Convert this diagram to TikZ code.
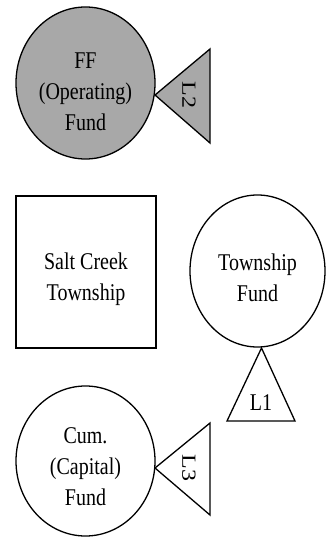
\documentclass[tikz,border=0pt]{standalone}
\usepackage{fontspec}
\usepackage{graphicx}
\setmainfont{Liberation Serif}
\usetikzlibrary{shapes.geometric}
\definecolor{fundgray}{RGB}{168,168,168}
\newcommand{\vtext}[1]{\scalebox{1}[1.2]{\begin{tabular}{@{}c@{}}#1\end{tabular}}}
\tikzset{
  lbl/.style={font=\fontsize{20}{26}\selectfont, inner sep=0pt},
  fund/.style={ellipse, draw, line width=1.3pt, inner sep=0pt},
  tri/.style={draw, line width=1.3pt, line join=miter},
  box/.style={draw, line width=1.3pt, inner sep=0pt}
}
\begin{document}
\begin{tikzpicture}[x=1pt,y=-1pt]
\useasboundingbox (0,0) rectangle (336,537);
% FF operating fund
\node[fund, fill=fundgray, minimum width=139pt, minimum height=152pt] (ff) at (85.5,83) {};
\node[lbl] (fftext) at (85.5,93) {\vtext{FF\\(Operating)\\Fund}};
% L2
\coordinate (l2a) at (155,95);
\coordinate (l2b) at (210,49);
\coordinate (l2c) at (210,143);
\draw[tri, fill=fundgray] (l2a) -- (l2b) -- (l2c) -- cycle;
\node[lbl, rotate=-90] (l2) at (189,95) {\scalebox{1.2}[1]{L2}};
% Salt Creek Township
\node[box, minimum width=140pt, minimum height=152pt] (sct) at (86,272) {};
\node[lbl] (scttext) at (86,279) {\vtext{Salt Creek\\Township}};
% Township Fund
\node[fund, minimum width=135pt, minimum height=152pt] (tf) at (257.5,271) {};
\node[lbl] (tftext) at (257.5,280) {\vtext{Township\\Fund}};
% L1
\coordinate (l1a) at (261.5,348);
\coordinate (l1b) at (295,421);
\coordinate (l1c) at (227,421);
\draw[tri] (l1a) -- (l1b) -- (l1c) -- cycle;
\node[lbl] (l1) at (261,403) {\scalebox{1}[1.2]{L1}};
% Cum capital fund
\node[fund, minimum width=139pt, minimum height=150pt] (cum) at (85.5,461) {};
\node[lbl] (cumtext) at (85.5,468) {\vtext{Cum.\\(Capital)\\Fund}};
% L3
\coordinate (l3a) at (155,468);
\coordinate (l3b) at (210,423);
\coordinate (l3c) at (210,515);
\draw[tri] (l3a) -- (l3b) -- (l3c) -- cycle;
\node[lbl, rotate=-90] (l3) at (189,468) {\scalebox{1.2}[1]{L3}};
\end{tikzpicture}
\end{document}
